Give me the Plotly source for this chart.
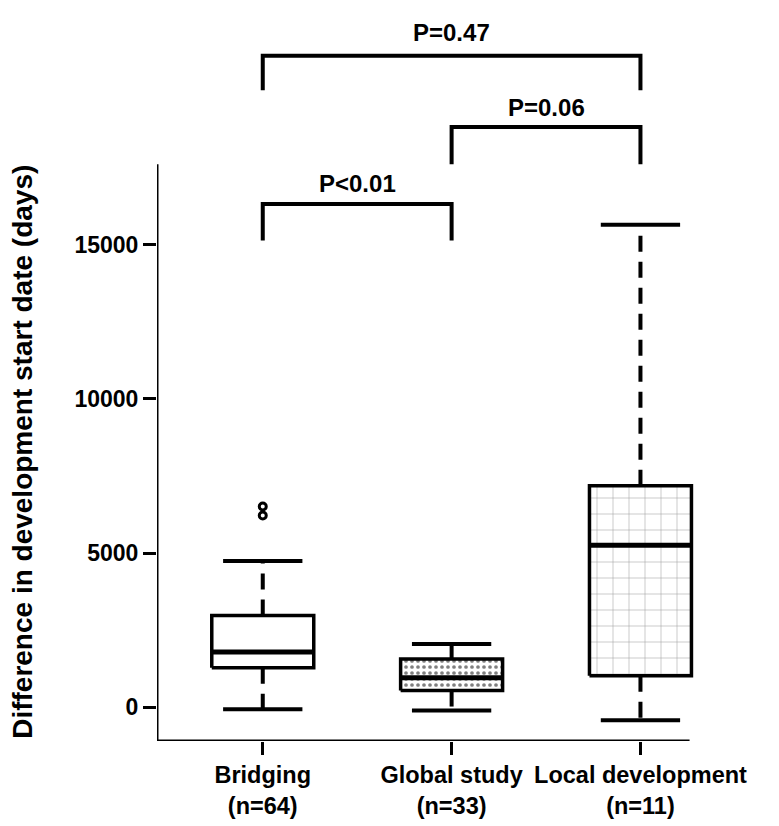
import plotly.graph_objects as go

# ---- data ----
categories = ["Bridging<br>(n=64)", "Global study<br>(n=33)", "Local development<br>(n=11)"]
positions = [0, 1, 2]
q1 = [1280, 545, 1025]
median = [1795, 960, 5256]
q3 = [2980, 1570, 7180]
whisker_low = [-65, -100, -417]
whisker_high = [4740, 2050, 15640]
outlier_x = [0, 0]
outlier_y = [6220, 6510]
p_pairs = [(0, 1), (1, 2), (0, 2)]
p_labels = ["P<0.01", "P=0.06", "P=0.47"]

# ---- styles ----
FONT = "Liberation Sans, Arial, sans-serif"
BOX_HALF = 0.27
CAP_HALF = 0.21
X_MIN, X_MAX, X_AXIS_END = -0.56, 2.31, 2.26
Y_MIN, Y_MAX = -1090, 22600
AXIS_TOP = 17600
bracket_levels = [(15130, 16310, 16990), (17600, 18810, 19450), (20000, 21120, 21860)]

fills = [
    dict(fillcolor="white"),
    dict(fillcolor="white", fillpattern=dict(shape=".", fgcolor="black", bgcolor="white", size=6, solidity=0.3)),
    dict(fillcolor="white", fillpattern=dict(shape="+", fgcolor="#444444", bgcolor="white", size=16, solidity=0.07)),
]

fig = go.Figure()

for i, c in enumerate(positions):
    # dashed whiskers
    fig.add_trace(go.Scatter(x=[c, c], y=[q3[i], whisker_high[i]], mode="lines",
                             line=dict(color="black", width=4, dash="16px,10px"),
                             hoverinfo="skip", showlegend=False))
    fig.add_trace(go.Scatter(x=[c, c], y=[q1[i], whisker_low[i]], mode="lines",
                             line=dict(color="black", width=4, dash="16px,10px"),
                             hoverinfo="skip", showlegend=False))
    # caps
    for v in (whisker_low[i], whisker_high[i]):
        fig.add_trace(go.Scatter(x=[c - CAP_HALF, c + CAP_HALF], y=[v, v], mode="lines",
                                 line=dict(color="black", width=4),
                                 hoverinfo="skip", showlegend=False))
    # box
    fig.add_trace(go.Scatter(
        x=[c - BOX_HALF, c + BOX_HALF, c + BOX_HALF, c - BOX_HALF, c - BOX_HALF],
        y=[q1[i], q1[i], q3[i], q3[i], q1[i]],
        mode="lines", fill="toself", line=dict(color="black", width=3.5),
        hoverinfo="skip", showlegend=False, **fills[i]))
    # median
    fig.add_trace(go.Scatter(x=[c - BOX_HALF, c + BOX_HALF], y=[median[i], median[i]], mode="lines",
                             line=dict(color="black", width=5),
                             hoverinfo="skip", showlegend=False))

# outliers
fig.add_trace(go.Scatter(x=outlier_x, y=outlier_y, mode="markers",
                         marker=dict(symbol="circle-open", size=7, color="black", line=dict(width=3, color="black")),
                         hoverinfo="skip", showlegend=False))

# significance brackets
annotations = []
for (a, b), lab, (lo, hi, ty) in zip(p_pairs, p_labels, bracket_levels):
    fig.add_trace(go.Scatter(x=[positions[a], positions[a], positions[b], positions[b]],
                             y=[lo, hi, hi, lo], mode="lines",
                             line=dict(color="black", width=4), cliponaxis=False,
                             hoverinfo="skip", showlegend=False))
    annotations.append(dict(x=(positions[a] + positions[b]) / 2, y=ty, xref="x", yref="y",
                            text=lab, showarrow=False,
                            font=dict(family=FONT, size=24, color="black", weight="bold")))

annotations.append(dict(x=-0.248, y=0.395, xref="paper", yref="paper",
                        text="Difference in development start date (days)",
                        textangle=-90, showarrow=False, xanchor="center", yanchor="middle",
                        font=dict(family=FONT, size=28, color="black", weight="bold")))

fig.update_layout(
    width=771, height=818,
    margin=dict(l=149, r=80, t=2, b=85),
    plot_bgcolor="white", paper_bgcolor="white",
    annotations=annotations,
    shapes=[
        dict(type="line", xref="x", yref="y", x0=X_MIN, x1=X_MIN, y0=Y_MIN, y1=AXIS_TOP,
             line=dict(color="black", width=3)),
        dict(type="line", xref="x", yref="y", x0=X_MIN, x1=X_AXIS_END, y0=Y_MIN, y1=Y_MIN,
             line=dict(color="black", width=3)),
    ],
    xaxis=dict(range=[X_MIN, X_MAX], tickvals=positions, ticktext=categories,
               showline=False,
               ticks="outside", ticklen=13, tickwidth=3, tickcolor="black",
               showgrid=False, zeroline=False,
               tickfont=dict(family=FONT, size=23.5, color="black", weight="bold")),
    yaxis=dict(range=[Y_MIN, Y_MAX], tickvals=[0, 5000, 10000, 15000],
               ticktext=["0", "5000", "10000", "15000"],
               showline=False, ticks="outside", ticklen=13, tickwidth=3, tickcolor="black",
               showgrid=False, zeroline=False,
               tickfont=dict(family=FONT, size=23, color="black", weight="bold")),
)

fig.write_html("out.html")
